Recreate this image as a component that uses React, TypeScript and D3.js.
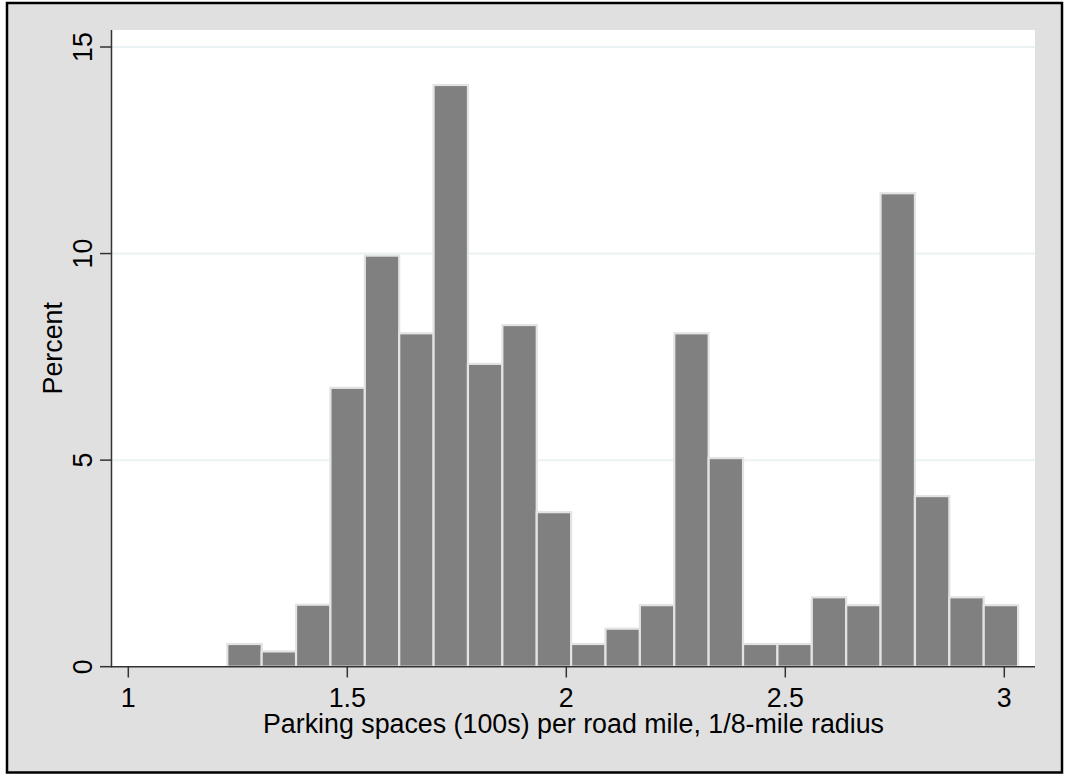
import React from "react";
import * as d3 from "d3";

const binStart = 1.226;
const binWidth = 0.0785;
const percents = [
  0.55, 0.37, 1.5, 6.75, 9.95, 8.07, 14.08, 7.33, 8.27, 3.74, 0.55, 0.92,
  1.49, 8.07, 5.05, 0.55, 0.55, 1.68, 1.49, 11.46, 4.13, 1.68, 1.49,
];
const xTicks = [1, 1.5, 2, 2.5, 3];
const yTicks = [0, 5, 10, 15];
const yGrid = [5, 10, 15];
const xTitle = "Parking spaces (100s) per road mile, 1/8-mile radius";
const yTitle = "Percent";

const W = 1065;
const H = 782;
const FONT = "'Liberation Sans', Arial, Helvetica, sans-serif";
const FS = 26.8;

export default function App() {
  const x = d3.scaleLinear().domain([1, 3]).range([128.3, 1004.3]);
  const y = d3.scaleLinear().domain([0, 15]).range([666.7, 47]);
  const plotLeft = 111.5;
  const plotRight = 1035;
  const plotTop = 30;
  const plotBottom = y(0);

  return (
    <svg
      width={W}
      height={H}
      style={{ position: "absolute", left: 0, top: 0, display: "block" }}
      fontFamily={FONT}
    >
      <rect x={0} y={0} width={W} height={H} fill="#ffffff" />
      <rect
        x={7}
        y={3}
        width={1055}
        height={769.5}
        fill="#e0e0e0"
        stroke="#000"
        strokeWidth={2.5}
      />
      <rect
        x={plotLeft}
        y={plotTop}
        width={plotRight - plotLeft}
        height={plotBottom - plotTop}
        fill="#ffffff"
      />
      {yGrid.map((v) => (
        <line
          key={"g" + v}
          x1={plotLeft}
          x2={plotRight}
          y1={y(v)}
          y2={y(v)}
          stroke="#eaf2f3"
          strokeWidth={2}
        />
      ))}
      {percents.map((p, i) => {
        const x0 = x(binStart + i * binWidth);
        const x1 = x(binStart + (i + 1) * binWidth);
        return (
          <rect
            key={"b" + i}
            x={x0}
            y={y(p)}
            width={x1 - x0}
            height={y(0) - y(p)}
            fill="#808080"
            stroke="#e3e3e3"
            strokeWidth={2.2}
          />
        );
      })}
      <line x1={plotLeft} x2={plotLeft} y1={plotTop} y2={plotBottom + 0.5} stroke="#333" strokeWidth={1.5} />
      <line x1={plotLeft - 0.5} x2={plotRight} y1={plotBottom} y2={plotBottom} stroke="#333" strokeWidth={1.5} />
      {yTicks.map((v) => (
        <g key={"yt" + v}>
          <line x1={100} x2={plotLeft} y1={y(v)} y2={y(v)} stroke="#333" strokeWidth={1.5} />
          <text
            transform={`translate(91.5,${y(v)}) rotate(-90)`}
            textAnchor="middle"
            fontSize={FS}
            fill="#000"
          >
            {v}
          </text>
        </g>
      ))}
      {xTicks.map((v) => (
        <g key={"xt" + v}>
          <line x1={x(v)} x2={x(v)} y1={plotBottom} y2={677.5} stroke="#333" strokeWidth={1.5} />
          <text x={x(v)} y={706.5} textAnchor="middle" fontSize={FS} fill="#000">
            {v}
          </text>
        </g>
      ))}
      <text x={573.5} y={733} textAnchor="middle" fontSize={FS} fill="#000">
        {xTitle}
      </text>
      <text
        transform={`translate(61.5,348.3) rotate(-90)`}
        textAnchor="middle"
        fontSize={FS}
        fill="#000"
      >
        {yTitle}
      </text>
    </svg>
  );
}
